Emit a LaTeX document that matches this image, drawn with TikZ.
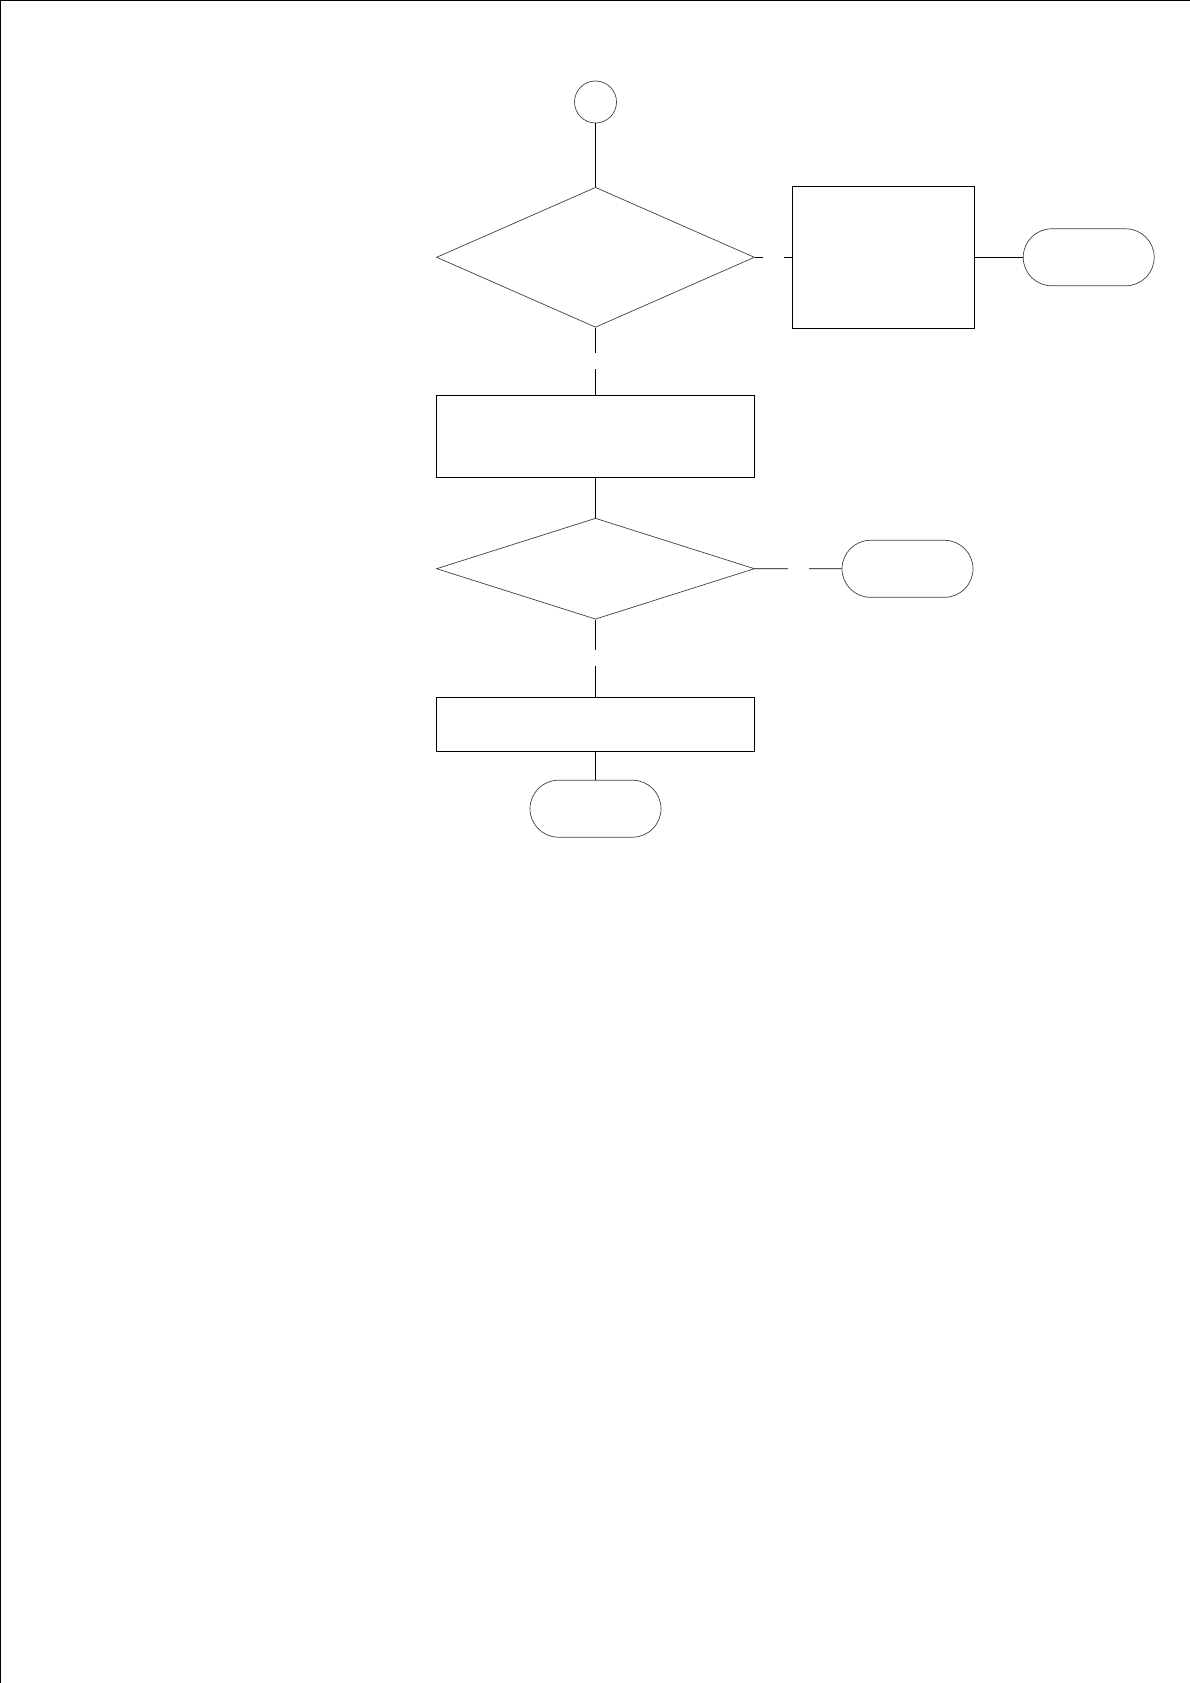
\documentclass[tikz,border=0pt]{standalone}
\usetikzlibrary{shapes.geometric,shapes.misc}
\tikzstyle{decision} = [
  draw=black!75,
  diamond,
  inner sep=0pt,
  line width=0.7pt,
]
\tikzstyle{process} = [
  draw,
  rectangle,
  inner sep=0pt,
  line width=0.8pt,
]
\tikzstyle{terminal} = [
  draw=black!75,
  rounded rectangle,
  minimum width=131pt,
  minimum height=57pt,
  inner sep=0pt,
  line width=0.7pt,
]
\tikzstyle{junction} = [
  draw=black!75,
  circle,
  minimum size=42pt,
  inner sep=0pt,
  line width=0.7pt,
]
\tikzstyle{lbl} = [
  fill=white,
  inner sep=0pt,
  minimum width=21pt,
  minimum height=16pt,
]
\begin{document}
\begin{tikzpicture}[
    x=1pt,
    y=-1pt,
    line width=0.8pt,
  ]
  \useasboundingbox (0,0) rectangle (1190,1683);
  \draw [line width=1pt] (0.5,1683) -- (0.5,0.5) -- (1189.5,0.5);
  \node[junction] (start) at (595.5,102) {};
  \node[
    decision,
    minimum width=318pt,
    minimum height=140pt,
  ](check) at (595.5,257.3) {};
  \node[
    process,
    minimum width=182pt,
    minimum height=142pt,
  ](handle) at (883.6,257.3) {};
  \node[terminal] (stopa) at (1088.7,257.3) {};
  \node[
    process,
    minimum width=318pt,
    minimum height=82pt,
  ](prepare) at (595.5,436.3) {};
  \node[
    decision,
    minimum width=318pt,
    minimum height=101pt,
  ](test) at (595.5,568.7) {};
  \node[terminal] (stopb) at (907.5,568.8) {};
  \node[
    process,
    minimum width=318pt,
    minimum height=54pt,
  ](finish) at (595.5,724.2) {};
  \node[terminal] (stopc) at (595.5,808.7) {};
  \path [] (start) edge (check);
  \path [] (check) edge node[lbl] {} (handle);
  \path [] (handle) edge (stopa);
  \path [] (check) edge node[lbl] {} (prepare);
  \path [] (prepare) edge (test);
  \path [] (test) edge node[lbl] {} (stopb);
  \path [] (test) edge node[lbl] {} (finish);
  \path [] (finish) edge (stopc);
\end{tikzpicture}
\end{document}
